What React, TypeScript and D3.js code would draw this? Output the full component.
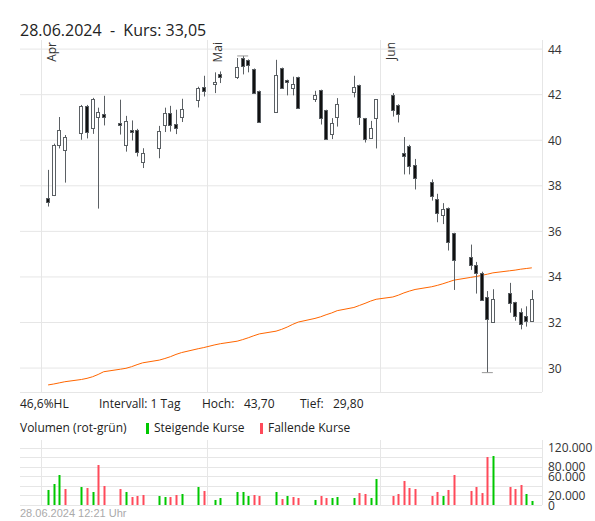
import * as d3 from "d3"

// trading days, Apr - Jun 2024
const dates = [
  "2024-04-02", "2024-04-03", "2024-04-04", "2024-04-05", "2024-04-08", "2024-04-09", "2024-04-10", "2024-04-11", "2024-04-12",
  "2024-04-15", "2024-04-16", "2024-04-17", "2024-04-18", "2024-04-19", "2024-04-22", "2024-04-23", "2024-04-24", "2024-04-25",
  "2024-04-26", "2024-04-29", "2024-04-30", "2024-05-02", "2024-05-03", "2024-05-06", "2024-05-07", "2024-05-08", "2024-05-09",
  "2024-05-10", "2024-05-13", "2024-05-14", "2024-05-15", "2024-05-16", "2024-05-17", "2024-05-20", "2024-05-21", "2024-05-22",
  "2024-05-23", "2024-05-24", "2024-05-27", "2024-05-28", "2024-05-29", "2024-05-30", "2024-05-31", "2024-06-03", "2024-06-04",
  "2024-06-05", "2024-06-06", "2024-06-07", "2024-06-10", "2024-06-11", "2024-06-12", "2024-06-13", "2024-06-14", "2024-06-17",
  "2024-06-18", "2024-06-19", "2024-06-20", "2024-06-21", "2024-06-24", "2024-06-25", "2024-06-26", "2024-06-27", "2024-06-28",
]
const opens = [
  37.46, 37.59, 39.79, 39.55, 40.31, 41.51, 40.52, 41.02, 41.15, 40.76, 39.79, 40.47, 40.46, 39.04, 39.68, 40.67, 41.19, 40.71,
  41.02, 41.75, 42.35, 42.5, 42.9, 42.76, 43.61, 43.53, 43.13, 42.16, 41.24, 43.17, 42.66, 42.29, 42.77, 41.82, 42.2, 41.32,
  40.27, 41.02, 42.12, 42.42, 40.96, 40.12, 40.96, 41.98, 41.56, 39.42, 39.76, 38.91, 38.16, 37.43, 36.71, 37.03, 35.92, 34.87,
  34.51, 34.19, 33.11, 32.04, 33.28, 32.89, 32.45, 32.27, 32.08,
]
const highs = [
  38.7, 39.85, 41.02, 40.23, 41.55, 41.55, 41.86, 41.43, 41.95, 41.78, 41.07, 40.87, 40.5, 39.65, 40.63, 41.43, 41.51, 41.34,
  41.82, 42.35, 42.83, 42.98, 43.02, 43.61, 43.7, 43.55, 43.15, 42.18, 43.53, 43.19, 42.66, 42.79, 42.79, 42.17, 42.22, 41.34,
  40.97, 41.85, 42.83, 42.44, 40.98, 40.85, 41.81, 42.07, 41.58, 40.14, 39.8, 39.18, 38.28, 37.65, 37.24, 37.05, 35.94, 35.42,
  34.66, 34.23, 33.38, 33.46, 33.74, 32.91, 32.62, 32.71, 33.42,
]
const lows = [
  37.09, 37.55, 39.64, 38.14, 40.02, 40.08, 40.28, 37.0, 40.65, 40.25, 39.5, 39.99, 39.29, 38.78, 39.21, 40.36, 40.38, 40.27,
  40.8, 41.44, 41.92, 42.07, 42.51, 42.69, 42.89, 42.98, 42.05, 40.78, 41.22, 42.27, 41.97, 41.97, 41.39, 41.68, 40.69, 40.02,
  40.05, 40.6, 41.88, 40.67, 39.9, 40.12, 39.64, 41.04, 40.78, 38.5, 38.5, 37.84, 37.35, 36.4, 36.32, 35.16, 33.43, 34.31,
  33.27, 32.96, 29.8, 31.99, 32.43, 32.08, 31.7, 31.82, 32.05,
]
const closes = [
  37.31, 39.79, 40.46, 40.14, 41.51, 40.34, 41.82, 41.25, 41.02, 40.71, 40.85, 40.42, 39.5, 39.43, 40.41, 41.21, 40.67, 40.53,
  41.37, 42.31, 42.14, 42.55, 42.77, 43.22, 43.27, 43.3, 42.07, 40.82, 42.88, 42.29, 42.6, 42.48, 41.41, 41.97, 40.97, 40.06,
  40.75, 41.6, 42.33, 41.02, 40.05, 40.53, 41.81, 41.31, 41.16, 39.3, 38.88, 38.34, 37.55, 36.8, 36.99, 35.55, 34.73, 34.51,
  34.19, 32.98, 32.14, 33.02, 32.84, 32.29, 31.92, 32.08, 33.05,
]
const volumes = [
  31400, 43900, 62700, 33400, 37600, 35500, 27200, 83600, 39700, 33400, 27200, 16700, 18800, 20900, 18800, 16700, 16700, 20900,
  23000, 37600, 29300, 10500, 14600, 27200, 27200, 18800, 20900, 18800, 27200, 12500, 18800, 16700, 14600, 10500, 18800, 14600,
  14600, 16700, 14600, 25000, 23000, 14600, 54400, 18800, 23000, 50200, 35500, 33400, 18800, 27200, 18800, 31400, 62700, 29300,
  37600, 25000, 100300, 102400, 37600, 33400, 41800, 23000, 8400,
]
const movingAvg = [
  29.26, 29.3, 29.35, 29.4, 29.5, 29.55, 29.62, 29.72, 29.84, 29.95, 29.99, 30.06, 30.15, 30.23, 30.35, 30.42, 30.5, 30.6,
  30.68, 30.85, 30.9, 31.02, 31.07, 31.18, 31.25, 31.33, 31.42, 31.5, 31.62, 31.7, 31.8, 31.92, 32.02, 32.18, 32.25, 32.34,
  32.42, 32.52, 32.66, 32.75, 32.84, 32.94, 33.02, 33.12, 33.2, 33.3, 33.38, 33.45, 33.57, 33.63, 33.7, 33.78, 33.86, 33.98,
  34.02, 34.07, 34.12, 34.18, 34.27, 34.3, 34.34, 34.37, 34.4,
]
const prevClose = 37.0
const priceTicks = [30, 32, 34, 36, 38, 40, 42, 44]
const volumeGrid = [0, 20000, 40000, 60000, 80000, 100000, 120000]
const volumeTicks = [0, 20000, 60000, 80000, 120000]
const monthStarts = [
  { label: "Apr", date: "2024-04-01" },
  { label: "Mai", date: "2024-05-01" },
  { label: "Jun", date: "2024-06-01" },
]
const updated = "28.06.2024 12:21 Uhr"

const FONT = "'Open Sans', 'Noto Sans', sans-serif"
const parse = (s: string) => {
  const [y, m, d] = s.split("-").map(Number)
  return new Date(y, m - 1, d)
}
const deNum = (v: number, digits = 2) => v.toFixed(digits).replace(".", ",")

export default function App() {
  const width = 595
  const height = 521
  const left = 20
  const right = 542
  const top = 40
  const bottom = 392
  const volTop = 440
  const volBottom = 505

  const start = parse("2024-04-01")
  const end = d3.timeHour.offset(start, 90.2 * 24)
  const x = d3.scaleTime().domain([start, end]).range([40.7, right])
  const cx = (s: string) => x(d3.timeHour.offset(parse(s), 8))

  const y = d3.scaleLinear().domain([28.95, 44.4]).range([bottom, top])
  const yv = d3.scaleLinear().domain([0, 120000]).range([volBottom, 447.6])

  const hi = d3.max(highs) as number
  const lo = d3.min(lows) as number
  const hiIdx = highs.indexOf(hi)
  const loIdx = lows.indexOf(lo)
  const hlPct = ((hi - lo) / lo) * 100

  const maLine = d3
    .line<number>()
    .x((_, i) => cx(dates[i]))
    .y((d) => y(d))

  const lastDate = parse(dates[dates.length - 1])
  const title = `${d3.timeFormat("%d.%m.%Y")(lastDate)}  -  Kurs: ${deNum(closes[closes.length - 1])}`

  const grid = "#e6e6e6"
  const candleStroke = "#5b6064"
  const up = "#00c800"
  const down = "#ff4a5a"
  const bodyW = 3

  return (
    <svg width={width} height={height} style={{ position: "absolute", left: 0, top: 0 }} fontFamily={FONT}>
      <rect width={width} height={height} fill="#fff" />
      <text x={left} y={36} fontSize={16} fill="#222" style={{ whiteSpace: "pre" }}>
        {title}
      </text>

      {/* price grid */}
      {priceTicks.map((t) => (
        <g key={t}>
          <line x1={left} x2={right} y1={y(t)} y2={y(t)} stroke={grid} />
          <text x={548} y={y(t) + 4.5} fontSize={12} fill="#333">
            {t}
          </text>
        </g>
      ))}
      <line x1={left} x2={right} y1={bottom + 0.5} y2={bottom + 0.5} stroke={grid} />
      <line x1={right + 0.5} x2={right + 0.5} y1={top} y2={bottom} stroke={grid} />
      {monthStarts.map((m) => {
        const mx = Math.round(x(parse(m.date))) + 0.5
        return (
          <g key={m.label}>
            <line x1={mx} x2={mx} y1={top} y2={bottom} stroke={grid} />
            <line x1={mx} x2={mx} y1={volTop} y2={volBottom} stroke={grid} />
            <text
              transform={`translate(${mx + 14},${42}) rotate(-90)`}
              textAnchor="end"
              fontSize={12}
              fill="#333"
            >
              {m.label}
            </text>
          </g>
        )
      })}

      {/* moving average */}
      <path d={maLine(movingAvg) ?? ""} fill="none" stroke="#ff6600" strokeWidth={1} />

      {/* candles */}
      {dates.map((d, i) => {
        const px = Math.round(cx(d)) + 0.5
        const o = opens[i]
        const c = closes[i]
        const yTop = Math.round(y(Math.max(o, c))) + 0.5
        const yBot = Math.max(Math.round(y(Math.min(o, c))) + 0.5, yTop + 2)
        return (
          <g key={d}>
            <line x1={px} x2={px} y1={y(highs[i])} y2={y(lows[i])} stroke={candleStroke} />
            <rect
              x={px - bodyW / 2 - 0.5}
              y={yTop}
              width={bodyW}
              height={yBot - yTop}
              fill={c >= o ? "#fff" : "#111"}
              stroke={candleStroke}
            />
          </g>
        )
      })}
      <line x1={cx(dates[hiIdx]) - 5.5} x2={cx(dates[hiIdx]) + 5.5} y1={y(hi)} y2={y(hi)} stroke="#999" />
      <line x1={cx(dates[loIdx]) - 5.5} x2={cx(dates[loIdx]) + 5.5} y1={y(lo)} y2={y(lo)} stroke="#999" />

      {/* info line */}
      <g fontSize={12} fill="#222">
        <text x={left} y={408}>{`${deNum(hlPct, 1)}%HL`}</text>
        <text x={99} y={408}>Intervall: 1 Tag</text>
        <text x={202} y={408}>Hoch:</text>
        <text x={244} y={408}>{deNum(hi)}</text>
        <text x={300} y={408}>Tief:</text>
        <text x={333} y={408}>{deNum(lo)}</text>
        <text x={left} y={432}>Volumen (rot-grün)</text>
        <rect x={146} y={423} width={3} height={11} fill={up} />
        <text x={154} y={432}>Steigende Kurse</text>
        <rect x={260} y={423} width={3} height={11} fill={down} />
        <text x={268} y={432}>Fallende Kurse</text>
      </g>

      {/* volume */}
      {volumeGrid.map((t) => (
        <line key={t} x1={left} x2={right} y1={Math.round(yv(t)) + 0.5} y2={Math.round(yv(t)) + 0.5} stroke={grid} />
      ))}
      <line x1={right + 0.5} x2={right + 0.5} y1={volTop} y2={volBottom} stroke={grid} />
      {volumeTicks.map((t) => (
        <text key={t} x={548} y={yv(t) + 4.5} fontSize={12} fill="#333">
          {d3.format(",")(t).replace(/,/g, ".")}
        </text>
      ))}
      {dates.map((d, i) => {
        const prev = i === 0 ? prevClose : closes[i - 1]
        const px = Math.round(cx(d))
        return (
          <rect
            key={d}
            x={px - 0.5}
            y={yv(volumes[i])}
            width={2}
            height={volBottom - yv(volumes[i])}
            fill={closes[i] >= prev ? up : down}
          />
        )
      })}

      <text x={left} y={521 - 4} fontSize={11} fill="#aaa" fontFamily="'Liberation Sans', Arial, sans-serif">
        {updated}
      </text>
    </svg>
  )
}
